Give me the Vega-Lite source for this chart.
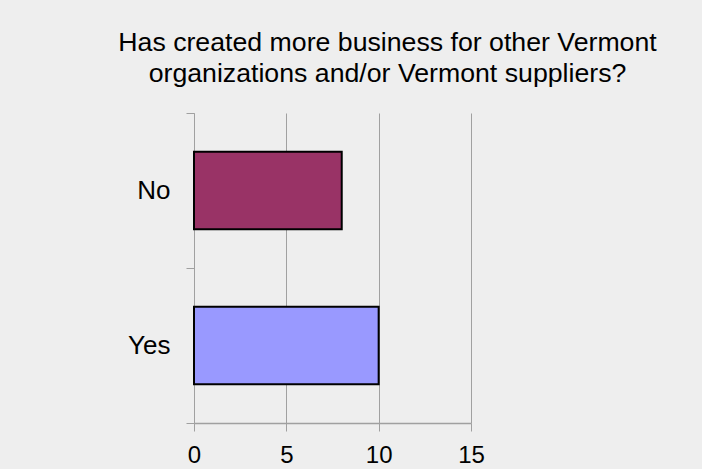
{
  "$schema": "https://vega.github.io/schema/vega-lite/v6.json",
  "autosize": {"type": "none"},
  "width": 277,
  "height": 310,
  "padding": {"left": 194, "top": 113, "right": 231, "bottom": 46},
  "background": "#eeeeee",
  "title": {
    "text": ["Has created more business for other Vermont", "organizations and/or Vermont suppliers?"],
    "anchor": "middle",
    "dx": 55,
    "offset": 12,
    "font": "Liberation Sans",
    "fontSize": 26.7,
    "fontWeight": "normal",
    "lineHeight": 31,
    "color": "#000000"
  },
  "data": {
    "values": [
      {"answer": "No", "count": 8},
      {"answer": "Yes", "count": 10}
    ]
  },
  "mark": {"type": "bar", "stroke": "#000000", "strokeWidth": 2, "height": {"band": 0.5}},
  "encoding": {
    "y": {
      "field": "answer",
      "type": "nominal",
      "sort": ["No", "Yes"],
      "scale": {"paddingInner": 0, "paddingOuter": 0},
      "axis": {
        "title": null,
        "tickBand": "extent",
        "tickSize": 8,
        "labelPadding": 16,
        "labelFont": "Liberation Sans",
        "labelFontSize": 26,
        "labelColor": "#000000",
        "domainColor": "#a0a0a0",
        "tickColor": "#a0a0a0",
        "grid": false
      }
    },
    "x": {
      "field": "count",
      "type": "quantitative",
      "scale": {"domain": [0, 15], "nice": false},
      "axis": {
        "title": null,
        "values": [0, 5, 10, 15],
        "domain": true,
        "domainWidth": 1.5,
        "tickSize": 8,
        "labelPadding": 12,
        "labelFont": "Liberation Sans",
        "labelFontSize": 24,
        "labelColor": "#000000",
        "labelFlush": false,
        "domainColor": "#a0a0a0",
        "tickColor": "#a0a0a0",
        "grid": true,
        "gridColor": "#a0a0a0"
      }
    },
    "color": {
      "field": "answer",
      "type": "nominal",
      "scale": {"domain": ["No", "Yes"], "range": ["#993366", "#9999ff"]},
      "legend": null
    }
  },
  "config": {"view": {"stroke": null}}
}
